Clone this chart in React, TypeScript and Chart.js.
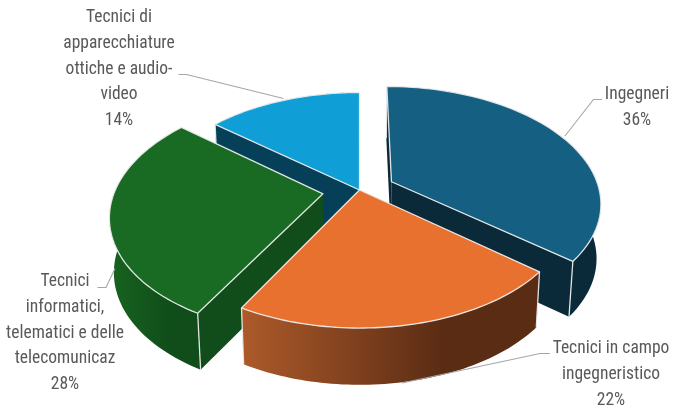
import React, { useEffect, useRef } from "react";
import { Chart, ArcElement, PieController, DoughnutController } from "chart.js";

// Share of each professional group, in percent.
const categories = [
  "Ingegneri",
  "Tecnici in campo ingegneristico",
  "Tecnici informatici, telematici e delle telecomunicaz",
  "Tecnici di apparecchiature ottiche e audio-video",
];
const shares = [36, 22, 28, 14];

// Wrapped label text for each slice.
const labelLines = [
  ["Ingegneri"],
  ["Tecnici in campo", "ingegneristico"],
  ["Tecnici", "informatici,", "telematici e delle", "telecomunicaz"],
  ["Tecnici di", "apparecchiature", "ottiche e audio-", "video"],
];

// Slice palette: top face, radial faces, outer wall left and right.
const topColors = ["#156082", "#E87130", "#196B24", "#0F9ED5"];
const faceColors = ["#0A2A3A", "#5A2C14", "#104D1A", "#063F58"];
const wallStart = ["#0A2A3A", "#AD5A2A", "#17641F", "#063F58"];
const wallEnd = ["#0A2A3A", "#5A2C14", "#104D1A", "#063F58"];

// How far each slice is pulled out of the pie, in px of chart radius.
const explode = [30, 0, 31, 0];

// Slices are painted from the back of the pie to the front.
const paintOrder = [3, 0, 2, 1];

// Camera used to project the flat pie: scale across, scale in depth, perspective, thickness.
const VIEW = { sx: 208, sy: 114.3, persp: 0.172, depth: 54, bottomX: 0.982, bottomY: 1.02 };

// Anchor of each label block and the polyline joining it to its slice.
const labelLayout = [
  { x: 637, y: 95, leader: [[565, 136], [593.5, 99.5], [602, 99.5]] },
  { x: 611, y: 349, leader: [[402, 383], [540, 353.5], [550, 353.5]] },
  { x: 65, y: 282, leader: [[115, 268.5], [106, 287.5], [97.5, 287.5]] },
  { x: 119, y: 18, leader: [[283.5, 98.5], [186.5, 74.5], [178.5, 74.5]] },
];
const LINE_HEIGHT = 25.7;
const EDGE = "rgba(240,240,240,0.92)";

class Arc3D extends ArcElement {
  static id = "arc3d";

  draw(ctx: CanvasRenderingContext2D) {
    const el: any = this;
    const { x: cx, y: cy, startAngle, endAngle, outerRadius, options } = el;
    const i: number = el.$context.dataIndex;
    const mid = (startAngle + endAngle) / 2;
    const shift = options.offset / outerRadius;
    const ex = Math.cos(mid) * shift;
    const ey = Math.sin(mid) * shift;

    const top = (u: number, v: number): [number, number] => {
      const X = u + ex;
      const Y = v + ey;
      const w = 1 - VIEW.persp * Y;
      return [cx + (VIEW.sx * X) / w, cy + (VIEW.sy * Y) / w];
    };
    const bottom = (u: number, v: number): [number, number] => {
      const [px, py] = top(u, v);
      return [cx + (px - cx) * VIEW.bottomX, cy + (py - cy) * VIEW.bottomY + VIEW.depth];
    };

    const steps = 64;
    const rim: [number, number][] = [];
    for (let s = 0; s <= steps; s++) {
      const a = startAngle + ((endAngle - startAngle) * s) / steps;
      rim.push([Math.cos(a), Math.sin(a)]);
    }
    const topRim = rim.map(([u, v]) => top(u, v));
    const bottomRim = rim.map(([u, v]) => bottom(u, v));
    const first = rim[0];
    const last = rim[steps];

    const polygon = (pts: [number, number][]) => {
      ctx.beginPath();
      pts.forEach(([px, py], k) => (k ? ctx.lineTo(px, py) : ctx.moveTo(px, py)));
      ctx.closePath();
    };
    const segment = (a: [number, number], b: [number, number]) => {
      ctx.beginPath();
      ctx.moveTo(a[0], a[1]);
      ctx.lineTo(b[0], b[1]);
      ctx.stroke();
    };

    ctx.save();
    ctx.lineJoin = "round";

    // Radial cut faces.
    ctx.fillStyle = faceColors[i];
    for (const edge of [first, last]) {
      polygon([top(0, 0), top(edge[0], edge[1]), bottom(edge[0], edge[1]), bottom(0, 0)]);
      ctx.fill();
    }

    // Curved outer wall, shaded from left to right.
    const xs = topRim.map((p) => p[0]);
    const left = Math.min(...xs);
    const right = Math.max(...xs);
    const shade = ctx.createLinearGradient(left, 0, left + (right - left) * 0.68, 0);
    shade.addColorStop(0, wallStart[i]);
    shade.addColorStop(1, wallEnd[i]);
    ctx.fillStyle = shade;
    polygon([...topRim, ...bottomRim.slice().reverse()]);
    ctx.fill();

    // Corner edges of the wall.
    ctx.strokeStyle = EDGE;
    ctx.lineWidth = 1.3;
    for (const edge of [first, last]) {
      segment(top(edge[0], edge[1]), bottom(edge[0], edge[1]));
    }

    // Top face with its light outline.
    ctx.fillStyle = options.backgroundColor;
    polygon([top(0, 0), ...topRim]);
    ctx.fill();
    ctx.stroke();
    ctx.restore();
  }
}

class Pie3DController extends PieController {
  static id = "pie3d";
  static defaults = { dataElementType: "arc3d" };

  draw() {
    const chart: any = (this as any).chart;
    const elements: any[] = (this as any)._cachedMeta.data;
    paintOrder.forEach((i) => elements[i].draw(chart.ctx, chart.chartArea));
  }
}

const sliceLabels = {
  id: "sliceLabels",
  afterDatasetsDraw(chart: any) {
    const { ctx } = chart;
    const values = chart.data.datasets[0].data as number[];
    ctx.save();
    ctx.textAlign = "center";
    ctx.textBaseline = "middle";
    ctx.font = '17.5px "Liberation Sans Narrow", "Roboto Condensed", "Liberation Sans", sans-serif';
    labelLayout.forEach((layout, i) => {
      ctx.strokeStyle = "#A6A6A6";
      ctx.lineWidth = 1.1;
      ctx.beginPath();
      layout.leader.forEach(([px, py], k) => (k ? ctx.lineTo(px, py) : ctx.moveTo(px, py)));
      ctx.stroke();
      ctx.fillStyle = "#595959";
      const lines = [...labelLines[i], `${values[i]}%`];
      lines.forEach((line, k) => ctx.fillText(line, layout.x, layout.y + k * LINE_HEIGHT));
    });
    ctx.restore();
  },
};

Chart.register(ArcElement, DoughnutController, PieController, Arc3D, Pie3DController);

export default function App() {
  const canvasRef = useRef<HTMLCanvasElement>(null);

  useEffect(() => {
    document.body.style.margin = "0";
    const chart = new Chart(canvasRef.current as HTMLCanvasElement, {
      type: "pie3d" as any,
      data: {
        labels: categories,
        datasets: [
          {
            data: shares,
            backgroundColor: topColors,
            offset: explode,
            borderWidth: 0,
            clip: false,
          } as any,
        ],
      },
      options: {
        animation: false,
        responsive: false,
        layout: { padding: { left: 46, bottom: 27 } },
        plugins: { legend: { display: false }, tooltip: { enabled: false } },
      } as any,
      plugins: [sliceLabels],
    });
    return () => chart.destroy();
  }, []);

  return <canvas ref={canvasRef} width={673} height={407} style={{ display: "block" }} />;
}
